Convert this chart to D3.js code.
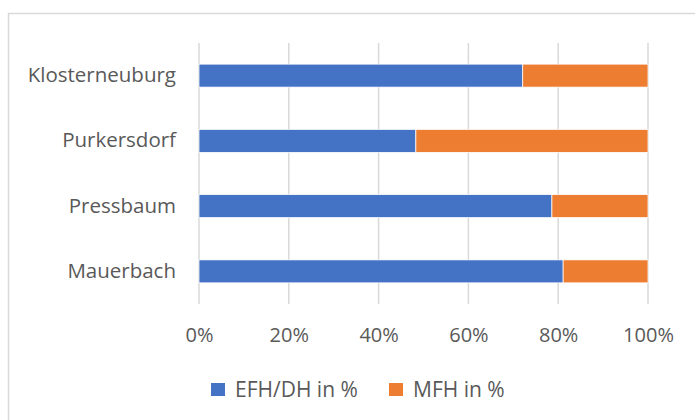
<!DOCTYPE html>
<html><head><meta charset="utf-8">
<script src="https://cdn.jsdelivr.net/npm/d3@7"></script>
<style>body{margin:0;background:#fff}svg{display:block}</style>
</head><body><svg id="c" width="695" height="420"></svg>
<script>
const categories = ["Klosterneuburg", "Purkersdorf", "Pressbaum", "Mauerbach"];
const efh = [72.1, 48.3, 78.6, 81.1];
const mfh = [27.9, 51.7, 21.4, 18.9];
const seriesNames = ["EFH/DH in %", "MFH in %"];
const colors = ["#4472C4", "#ED7D31"];
const xTicks = [0, 20, 40, 60, 80, 100];

const svg = d3.select("#c");
const font = "'Open Sans', sans-serif";
const textColor = "#595959";

svg.append("rect").attr("x", 8.5).attr("y", 13.5).attr("width", 700).attr("height", 420)
  .attr("fill", "#fff").attr("stroke", "#d9d9d9").attr("stroke-width", 1.5);

const m = {left: 199, right: 648, top: 43, bottom: 304};
const x = d3.scaleLinear().domain([0, 100]).range([m.left, m.right]);
const y = d3.scaleBand().domain(categories).range([m.top, m.bottom]).paddingInner(0.648).paddingOuter(0.324);

svg.append("g").selectAll("line").data(xTicks).join("line")
  .attr("x1", d => x(d)).attr("x2", d => x(d)).attr("y1", m.top).attr("y2", m.bottom)
  .attr("stroke", "#d9d9d9").attr("stroke-width", 1.5);

const rows = categories.map((c, i) => ({c, v: [efh[i], mfh[i]]}));
const stack = [];
rows.forEach(r => { let acc = 0; r.v.forEach((v, k) => { stack.push({c: r.c, k, x0: acc, x1: acc + v}); acc += v; }); });

svg.append("g").selectAll("rect").data(stack).join("rect")
  .attr("x", d => x(d.x0)).attr("width", d => x(d.x1) - x(d.x0))
  .attr("y", d => y(d.c)).attr("height", y.bandwidth())
  .attr("fill", d => colors[d.k]).attr("stroke", "#fff").attr("stroke-width", 0.75);

const yAxis = svg.append("g").attr("transform", `translate(${m.left},0)`)
  .call(d3.axisLeft(y).tickSize(0).tickPadding(23));
yAxis.select(".domain").remove();
yAxis.selectAll("text").attr("font-family", font).attr("font-size", 20.5).attr("fill", textColor);

const xAxis = svg.append("g").attr("transform", `translate(0,${m.bottom})`)
  .call(d3.axisBottom(x).tickValues(xTicks).tickFormat(d => d + "%").tickSize(0).tickPadding(24));
xAxis.select(".domain").remove();
xAxis.selectAll("text").attr("font-family", font).attr("font-size", 20).attr("fill", textColor);

const lx = [211, 389];
const leg = svg.append("g").selectAll("g").data(seriesNames).join("g")
  .attr("transform", (d, i) => `translate(${lx[i]},383)`);
leg.append("rect").attr("width", 14).attr("height", 13).attr("fill", (d, i) => colors[i]);
leg.append("text").attr("x", 24).attr("y", 6.5).attr("dy", "0.36em").text(d => d)
  .attr("font-family", font).attr("font-size", 21).attr("fill", textColor);
</script></body></html>
